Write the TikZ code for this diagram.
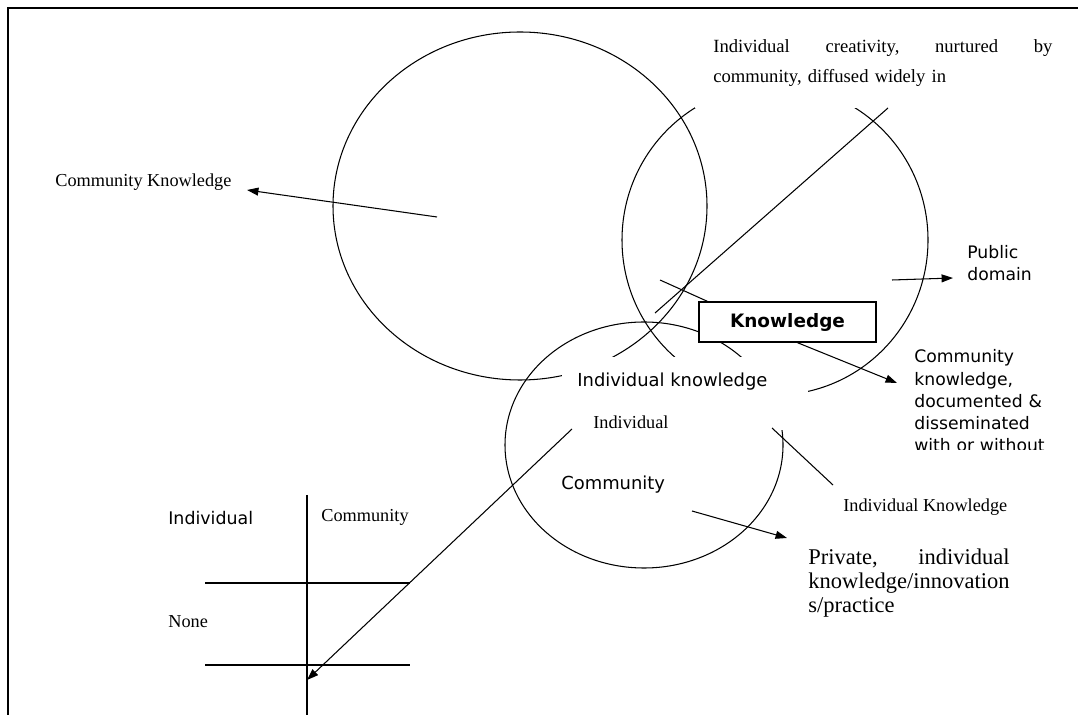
\documentclass[tikz,border=0pt]{standalone}
\usepackage{fontspec}
\setmainfont{Liberation Serif}
\newfontfamily\verdfont{DejaVu Sans}
\usetikzlibrary{calc}
\usetikzlibrary{arrows.meta}
\usetikzlibrary{positioning}
\tikzset{
	>={Triangle[length=6.5pt,width=4.5pt]},
	ring/.style={draw, line width=0.6pt},
	conn/.style={draw, line width=0.6pt},
	edgeline/.style={draw, line width=1.1pt},
	mask/.style={fill=white},
	serlabel/.style={inner sep=0pt, anchor=base west, font=\fontsize{10.4}{13}\selectfont},
	sanslabel/.style={inner sep=0pt, anchor=base west, font=\verdfont\fontsize{10.2}{12.3}\selectfont},
	knowbox/.style={
		rectangle,
		draw=black, line width=0.8pt,
		fill=white,
		minimum width=3.54cm,
		minimum height=0.8cm,
		font=\verdfont\bfseries\fontsize{10.5}{12}\selectfont},
}

\begin{document}
\begin{tikzpicture}
	[x=0.02cm, y=-0.02cm]
	\useasboundingbox (0,0) rectangle (1078,715);

	% page frame, only the top and left edges show
	\draw[edgeline] (1078,8) -- (8,8) -- (8,715);

	% the three rings
	\draw[ring] (520,206) ellipse [x radius=187, y radius=174];
	\draw[ring] (775,240) ellipse [x radius=153, y radius=155];
	\draw[ring] (644,445) ellipse [x radius=139, y radius=123];

	% white text boxes hide parts of the rings
	\fill[mask] (695,25) rectangle (1072,108);
	\fill[mask] (562,357) rectangle (808,430);

	% labels
	\node[serlabel] (commk) at (55,187) {Community Knowledge};
	\node[serlabel, text width=200pt, font=\fontsize{10.6}{17}\selectfont] (crea) at (713,53)
		{\makebox[193pt][l]{Individual\hfill creativity,\hfill nurtured\hfill by}\\community, diffused widely in};
	\node[sanslabel, text width=60pt, font=\verdfont\fontsize{9.8}{12}\selectfont] (pub) at (967,259) {Public\\domain};
	\node[knowbox] (know) at (787.5,322) {Knowledge};
	\begin{scope}
		\clip (900,330) rectangle (1078,450);
		\node[sanslabel, text width=85pt, font=\verdfont\fontsize{9.8}{12.6}\selectfont] (doc) at (914,363)
			{Community\\knowledge,\\documented \&\\disseminated\\with or without};
	\end{scope}
	\node[sanslabel] (indk) at (577,387) {Individual knowledge};
	\node[serlabel] (indiv) at (593,429) {Individual};
	\node[sanslabel] (comm) at (561,490) {Community};
	\node[serlabel] (indK) at (843,512) {Individual Knowledge};
	\node[serlabel, text width=120pt, font=\fontsize{12.8}{13.5}\selectfont] (priv) at (808,565)
		{\makebox[114.5pt][l]{Private,\hfill individual}\\knowledge/innovation\\s/practice};

	% the small table
	\node[sanslabel, font=\verdfont\fontsize{9.9}{12}\selectfont] (tind) at (168,525) {Individual};
	\node[serlabel] (tcom) at (321,522) {Community};
	\node[serlabel] (tnone) at (168,627) {None};
	\draw[conn] (307,495) -- (307,715);
	\draw[conn] (205,583) -- (410,583);
	\draw[conn] (205,665) -- (410,665);

	% connectors
	\coordinate (ckfrom) at (437,217);
	\coordinate (ckto) at (247,190);
	\coordinate (kmark) at (660,280);
	\coordinate (creafoot) at (888,108);
	\coordinate (creafrom) at (655,313);
	\coordinate (pubfrom) at (892,280);
	\coordinate (pubto) at (953,278);
	\coordinate (docto) at (897,383);
	\coordinate (indfrom) at (572,429);
	\coordinate (tableto) at (307,680);
	\coordinate (ikfrom) at (772,428);
	\coordinate (ikto) at (833,485);
	\coordinate (privfrom) at (692,511);
	\coordinate (privto) at (787,538);

	\draw[conn, ->] (ckfrom) -- (ckto);
	\draw[conn] (kmark) -- ($(know.north west)+(9,0)$);
	\draw[conn] (creafrom) -- (creafoot);
	\draw[conn, ->] (pubfrom) -- (pubto);
	\draw[conn, ->] ($(know.south)+(10,0)$) -- (docto);
	\draw[conn, ->] (indfrom) -- (tableto);
	\draw[conn] (ikfrom) -- (ikto);
	\draw[conn, ->] (privfrom) -- (privto);
\end{tikzpicture}
\end{document}
